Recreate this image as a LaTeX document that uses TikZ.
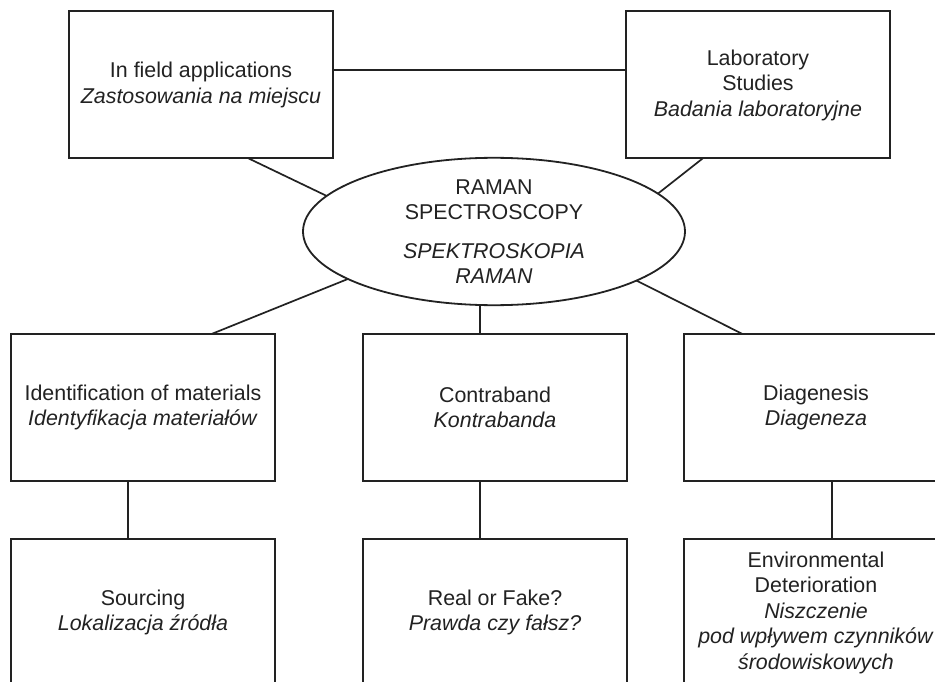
\documentclass[tikz,border=0pt]{standalone}
\usepackage{fontspec}
\setmainfont{Liberation Sans}
\usetikzlibrary{shapes.geometric}
\definecolor{ink}{HTML}{222222}
\tikzset{
  boxnode/.style={draw=ink, line width=2pt, rectangle, minimum width=264pt, minimum height=147pt,
    inner sep=0pt, outer sep=0pt, align=center, text=ink,
    font=\fontsize{21.4}{25.5}\selectfont},
  ellnode/.style={draw=ink, line width=1.8pt, ellipse, minimum width=382pt, minimum height=147pt,
    inner sep=0pt, outer sep=0pt, align=center, text=ink,
    font=\fontsize{21.4}{25.5}\selectfont},
  link/.style={draw=ink, line width=1.7pt}
}
\begin{document}
\begin{tikzpicture}[x=1pt,y=-1pt]
\useasboundingbox (0,0) rectangle (935,682);
\clip (0,0) rectangle (935,682);
\fill[white] (0,0) rectangle (935,682);

\node[boxnode] (infield) at (201,85) {In field applications\\\textit{Zastosowania na miejscu}};
\node[boxnode] (lab) at (758,85) {Laboratory\\Studies\\\textit{Badania laboratoryjne}};
\node[ellnode] (ell) at (494,231.5) {RAMAN\\SPECTROSCOPY\\[13pt]\textit{SPEKTROSKOPIA}\\\textit{RAMAN}};

\node[boxnode] (ident) at (143,407.5) {Identification of materials\\\textit{Identyfikacja materiałów}};
\node[boxnode] (contra) at (495,407.5) {Contraband\\\textit{Kontrabanda}};
\node[boxnode] (diag) at (816,407.5) {Diagenesis\\\textit{Diageneza}};

\node[boxnode] (src) at (143,612.5) {Sourcing\\\textit{Lokalizacja źródła}};
\node[boxnode] (real) at (495,612.5) {Real or Fake?\\\textit{Prawda czy fałsz?}};
\node[boxnode] (env) at (816,612.5) {Environmental\\Deterioration\\\textit{Niszczenie}\\\textit{pod wpływem czynników}\\\textit{środowiskowych}};

\coordinate (midx) at (480,0);

\draw[link] ([yshift=15pt]infield.east) -- ([yshift=15pt]lab.west);
\draw[link] (infield.-57.2) -- (ell.168.9);
\draw[link] (lab.233) -- (ell.13.5);
\draw[link] (ell.198.7) -- (ident.47.6);
\draw[link] (ell.south -| midx) -- (contra.north -| midx);
\draw[link] (ell.-19) -- (diag.135.2);
\draw[link] ([xshift=-15pt]ident.south) -- ([xshift=-15pt]src.north);
\draw[link] (contra.south -| midx) -- (real.north -| midx);
\draw[link] ([xshift=16pt]diag.south) -- ([xshift=16pt]env.north);
\end{tikzpicture}
\end{document}
